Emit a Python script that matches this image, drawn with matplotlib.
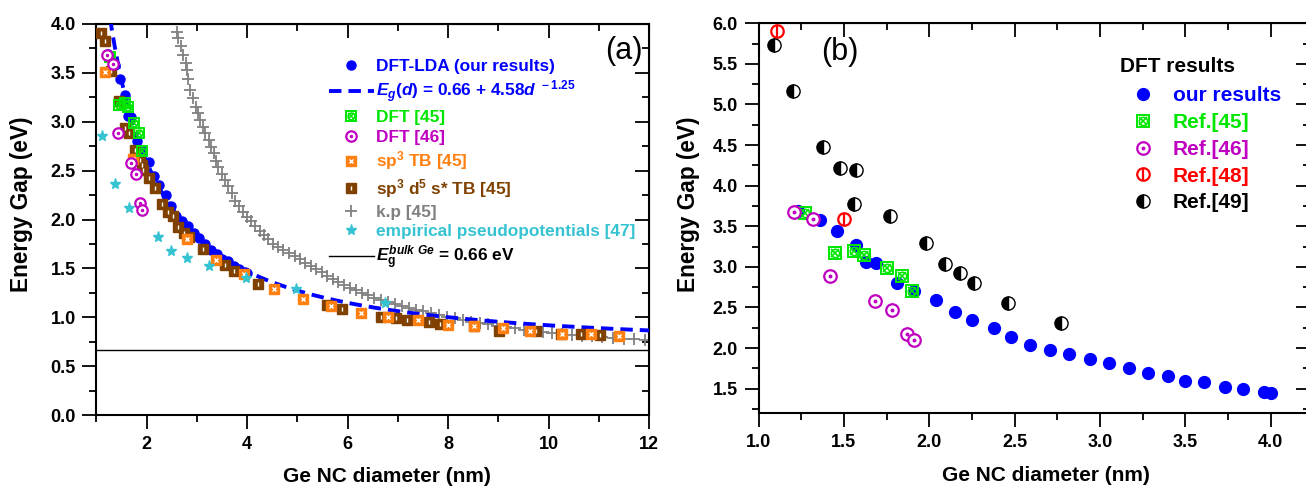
import matplotlib.pyplot as plt
import numpy as np
from matplotlib.ticker import MultipleLocator, NullFormatter

plt.rcParams['font.family'] = ['Liberation Sans', 'DejaVu Sans']
plt.rcParams['font.weight'] = 'bold'
plt.rcParams['axes.labelweight'] = 'bold'
plt.rcParams['mathtext.fontset'] = 'custom'
plt.rcParams['mathtext.rm'] = 'Liberation Sans:bold'
plt.rcParams['mathtext.it'] = 'Liberation Sans:bold:italic'
plt.rcParams['mathtext.bf'] = 'Liberation Sans:bold'

BLUE = '#0000ff'
GREEN = '#00e600'
MAGENTA = '#c000c0'
ORANGE = '#ff8010'
BROWN = '#7f4000'
GREY = '#808080'
CYAN = '#35c3d2'
RED = '#ff0000'

# DFT-LDA gaps (this work)
dft_d = [1.23, 1.36, 1.46, 1.57, 1.63, 1.69, 1.81, 1.91, 2.04, 2.15, 2.25, 2.38, 2.48, 2.59,
         2.71, 2.82, 2.94, 3.05, 3.17, 3.28, 3.40, 3.50, 3.61, 3.73, 3.84, 3.96, 4.00]
dft_E = [3.69, 3.58, 3.44, 3.27, 3.06, 3.05, 2.80, 2.70, 2.59, 2.44, 2.35, 2.25, 2.14, 2.04,
         1.98, 1.93, 1.86, 1.81, 1.75, 1.69, 1.65, 1.60, 1.58, 1.52, 1.49, 1.46, 1.45]

# fit E_g(d) = E0 + A d^p
fit_E0 = 0.66
fit_A = 4.58
fit_p = -1.25
bulk_gap = 0.66

ref45_d = [1.27, 1.45, 1.56, 1.62, 1.75, 1.84, 1.90]
ref45_E = [3.66, 3.17, 3.19, 3.15, 2.99, 2.89, 2.70]

ref46_d = [1.21, 1.32, 1.42, 1.68, 1.78, 1.87, 1.91]
ref46_E = [3.68, 3.59, 2.89, 2.58, 2.47, 2.17, 2.10]

ref48_d = [1.11, 1.50]
ref48_E = [5.90, 3.59]

ref49_d = [1.09, 1.20, 1.38, 1.48, 1.57, 1.56, 1.77, 1.98, 2.09, 2.18, 2.26, 2.46, 2.77]
ref49_E = [5.73, 5.17, 4.48, 4.22, 4.19, 3.78, 3.63, 3.30, 3.03, 2.93, 2.80, 2.55, 2.31]

tb_sp3_d = [1.16, 1.73, 2.81, 3.38, 3.93, 4.54, 5.11, 5.66, 6.27, 6.80, 7.41, 8.00, 8.51,
            9.09, 9.63, 10.27, 10.84, 11.41]
tb_sp3_E = [3.51, 2.62, 1.80, 1.59, 1.44, 1.29, 1.19, 1.12, 1.04, 1.00, 0.97, 0.92, 0.91,
            0.89, 0.86, 0.83, 0.83, 0.81]

tb_spds_d = [1.09, 1.17, 1.29, 1.45, 1.57, 1.65, 1.77, 1.87, 1.90, 1.93, 2.05, 2.16, 2.30,
             2.42, 2.52, 2.63, 2.75, 2.85, 3.12, 3.56, 3.73, 4.22, 5.59, 5.88, 6.66, 6.96,
             7.18, 7.62, 7.83, 8.51, 9.01, 9.75, 10.25, 10.64, 11.02]
tb_spds_E = [3.91, 3.83, 3.52, 3.21, 2.94, 2.88, 2.71, 2.61, 2.56, 2.51, 2.42, 2.32, 2.16,
             2.08, 2.04, 1.92, 1.86, 1.82, 1.70, 1.53, 1.47, 1.34, 1.13, 1.08, 1.00, 0.99,
             0.97, 0.95, 0.93, 0.91, 0.86, 0.86, 0.83, 0.83, 0.82]

kp_d = [2.61, 2.63, 2.68, 2.73, 2.78, 2.80, 2.83, 2.87, 2.93, 2.98, 3.03, 3.07, 3.13, 3.16,
        3.23, 3.27, 3.33, 3.38, 3.42, 3.49, 3.56, 3.62, 3.69, 3.76, 3.84, 3.92, 4.00, 4.08,
        4.16, 4.25, 4.33, 4.42, 4.52, 4.62, 4.72, 4.83, 4.95, 5.06, 5.16, 5.27, 5.38, 5.48,
        5.59, 5.70, 5.80, 5.93, 6.04, 6.16, 6.28, 6.41, 6.53, 6.66, 6.80, 6.94, 7.09, 7.23,
        7.37, 7.51, 7.65, 7.82, 7.98, 8.13, 8.30, 8.46, 8.63, 8.79, 8.97, 9.15, 9.33, 9.51,
        9.70, 9.88, 10.07, 10.27, 10.47, 10.67, 10.86, 11.07, 11.28, 11.50, 11.71, 11.93]
kp_E = [3.92, 3.86, 3.77, 3.68, 3.60, 3.53, 3.44, 3.32, 3.24, 3.15, 3.09, 3.02, 2.95, 2.89,
        2.81, 2.74, 2.68, 2.60, 2.54, 2.47, 2.40, 2.34, 2.27, 2.19, 2.14, 2.08, 2.03, 1.98,
        1.93, 1.88, 1.84, 1.80, 1.75, 1.72, 1.69, 1.66, 1.63, 1.60, 1.56, 1.52, 1.49, 1.46,
        1.42, 1.39, 1.36, 1.33, 1.30, 1.28, 1.25, 1.23, 1.20, 1.18, 1.16, 1.14, 1.11, 1.09,
        1.07, 1.06, 1.04, 1.02, 1.00, 0.99, 0.97, 0.95, 0.94, 0.93, 0.91, 0.90, 0.89, 0.87,
        0.86, 0.85, 0.84, 0.83, 0.82, 0.81, 0.81, 0.80, 0.79, 0.78, 0.78, 0.77]

epm_d = [1.10, 1.37, 1.65, 2.22, 2.49, 2.80, 3.24, 3.98, 4.97, 6.75]
epm_E = [2.85, 2.36, 2.12, 1.82, 1.68, 1.61, 1.52, 1.40, 1.29, 1.15]


def square_x(ax, x, y, c, ms, z):
    a = ax.plot(x, y, 's', ls='none', mfc='none', mec=c, mew=1.4, ms=ms, zorder=z)[0]
    b = ax.plot(x, y, 'o', ls='none', mfc='none', mec=c, mew=1.2, ms=ms * 0.7, zorder=z)[0]
    d = ax.plot(x, y, 'x', ls='none', color=c, mew=1.2, ms=ms * 0.6, zorder=z)[0]
    return (a, b, d)


def ring_dot(ax, x, y, c, ms, z):
    a = ax.plot(x, y, 'o', ls='none', mfc='white', mec=c, mew=1.6, ms=ms, zorder=z)[0]
    b = ax.plot(x, y, 'o', ls='none', color=c, ms=ms * 0.2, zorder=z)[0]
    return (a, b)


def filled_square(ax, x, y, c, inner, ms, z):
    a = ax.plot(x, y, 's', ls='none', color=c, ms=ms, zorder=z)[0]
    b = ax.plot(x, y, inner, ls='none', color='white', mew=1.0, ms=ms * 0.45, zorder=z)[0]
    return (a, b)


def ring_bar(ax, x, y, c, ms, z):
    a = ax.plot(x, y, 'o', ls='none', mfc='white', mec=c, mew=1.6, ms=ms, zorder=z)[0]
    b = ax.plot(x, y, '|', ls='none', color=c, mew=1.6, ms=ms, zorder=z)[0]
    return (a, b)


def style_axes(ax, xmaj, xmin, ymaj, ymin):
    for s in ax.spines.values():
        s.set_linewidth(1.5)
    ax.xaxis.set_major_locator(MultipleLocator(xmaj))
    ax.xaxis.set_minor_locator(MultipleLocator(xmin))
    ax.yaxis.set_major_locator(MultipleLocator(ymaj))
    ax.yaxis.set_minor_locator(MultipleLocator(ymin))
    ax.tick_params(which='both', direction='out', width=1.3, labelsize=13)
    ax.tick_params(which='major', length=10, pad=5)
    ax.tick_params(which='minor', length=5)
    for lbl in ax.get_xticklabels() + ax.get_yticklabels():
        lbl.set_fontweight('bold')
    top = ax.secondary_xaxis('top')
    right = ax.secondary_yaxis('right')
    for sec, axis in ((top, top.xaxis), (right, right.yaxis)):
        axis.set_major_locator(MultipleLocator(xmaj if sec is top else ymaj))
        axis.set_minor_locator(MultipleLocator(xmin if sec is top else ymin))
        axis.set_major_formatter(NullFormatter())
        sec.tick_params(which='both', direction='in', width=1.3)
        sec.tick_params(which='major', length=10)
        sec.tick_params(which='minor', length=5)


fig = plt.figure(figsize=(13.06, 4.91), dpi=100)
W, H = 1306, 491

# ---- (a) comparison with other methods
ax1 = fig.add_axes([96.5 / W, 1 - 415 / H, (649 - 96.5) / W, (415 - 24) / H])
ax1.set_xlim(1, 12)
ax1.set_ylim(0, 4)

kp = ax1.plot(kp_d, kp_E, '+', ls='none', color=GREY, ms=8, mew=1.3, zorder=2)[0]
d_fit = np.linspace(1.2, 12, 400)
fit = ax1.plot(d_fit, fit_E0 + fit_A * d_fit ** fit_p, color=BLUE, lw=2.8,
               ls=(0, (3.2, 1.8)), zorder=3)[0]
bulk = ax1.axhline(bulk_gap, color='black', lw=1.0, zorder=2)
dft1 = ax1.plot(dft_d, dft_E, 'o', ls='none', color=BLUE, ms=6.5, zorder=4)[0]
spds = filled_square(ax1, tb_spds_d, tb_spds_E, BROWN, '|', 6.5, 5)
sp3 = filled_square(ax1, tb_sp3_d, tb_sp3_E, ORANGE, 'x', 6.5, 5)
r45 = square_x(ax1, ref45_d, ref45_E, GREEN, 7, 6)
r46 = ring_dot(ax1, ref46_d, ref46_E, MAGENTA, 7.5, 6)
epm = ax1.plot(epm_d, epm_E, '*', ls='none', color=CYAN, ms=8, zorder=6)[0]

style_axes(ax1, 2, 1, 0.5, 0.25)
ax1.set_xlabel('Ge NC diameter (nm)', fontsize=15)
ax1.set_ylabel('Energy Gap (eV)', fontsize=16.3)
ax1.xaxis.set_label_coords(0.525, -0.133)
ax1.yaxis.set_label_coords(-0.115, 0.54)
ax1.text(0.955, 0.931, '(a)', transform=ax1.transAxes, ha='center', va='center',
         fontsize=22, fontweight='normal')

labels1 = ['DFT-LDA (our results)',
           r'$E_g(d)$ = 0.66 + 4.58$d^{\ -1.25}$',
           'DFT [45]', 'DFT [46]', r'sp$^3$ TB [45]', r'sp$^3$ d$^5$ s* TB [45]',
           'k.p [45]', 'empirical pseudopotentials [47]',
           r'$E_\mathrm{g}^{bulk\ Ge}$ = 0.66 eV']
colors1 = [BLUE, BLUE, GREEN, MAGENTA, ORANGE, BROWN, GREY, CYAN, 'black']
ax1.legend([dft1, fit, r45, r46, sp3, spds, kp, epm, bulk], labels1,
           labelcolor=colors1, loc='upper left', bbox_to_anchor=(0.421, 0.91),
           frameon=False, fontsize=12.4, handlelength=2.6, handletextpad=0.1,
           borderpad=0, borderaxespad=0, labelspacing=0.27)

# ---- (b) DFT results only
ax2 = fig.add_axes([758.5 / W, 1 - 413 / H, (1310 - 758.5) / W, (413 - 23.3) / H])
ax2.set_xlim(1.0, 4.23)
ax2.set_ylim(1.2, 6.0)

dft2 = ax2.plot(dft_d, dft_E, 'o', ls='none', color=BLUE, ms=8.5, zorder=3)[0]
g45 = square_x(ax2, ref45_d, ref45_E, GREEN, 8.5, 4)
m46 = ring_dot(ax2, ref46_d, ref46_E, MAGENTA, 9, 4)
r48 = ring_bar(ax2, ref48_d, ref48_E, RED, 9, 4)
k49 = ax2.plot(ref49_d, ref49_E, 'o', ls='none', fillstyle='left', mfc='black',
               mfcalt='white', mec='black', mew=1.0, ms=9.5, zorder=4)[0]

style_axes(ax2, 0.5, 0.25, 0.5, 0.25)
ax2.set_xlabel('Ge NC diameter (nm)', fontsize=15)
ax2.set_ylabel('Energy Gap (eV)', fontsize=16.3)
ax2.xaxis.set_label_coords(0.522, -0.137)
ax2.yaxis.set_label_coords(-0.106, 0.536)
ax2.text(0.148, 0.926, '(b)', transform=ax2.transAxes, ha='center', va='center',
         fontsize=22, fontweight='normal')

ax2.text(0.6555, 0.8887, 'DFT results', transform=ax2.transAxes, ha='left', va='center',
         fontsize=15, color='black')
labels2 = ['our results', 'Ref.[45]', 'Ref.[46]', 'Ref.[48]', 'Ref.[49]']
colors2 = [BLUE, GREEN, MAGENTA, RED, 'black']
ax2.legend([dft2, g45, m46, r48, k49], labels2, labelcolor=colors2, loc='upper left',
           bbox_to_anchor=(0.6745, 0.838), frameon=False, fontsize=15,
           handlelength=1.2, handletextpad=0.84, borderpad=0, borderaxespad=0,
           labelspacing=0.37)

fig.savefig('out.png', dpi=100)
